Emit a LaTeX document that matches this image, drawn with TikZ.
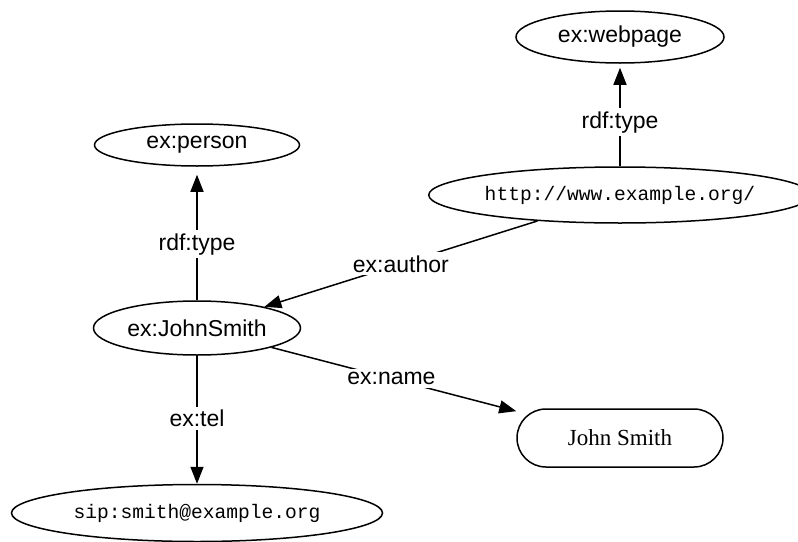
\documentclass[tikz,border=0pt]{standalone}
\usepackage{fontspec}
\setmainfont{Liberation Sans}
\newfontfamily\courierfont{Liberation Mono}
\newfontfamily\timesfont{Liberation Serif}
\usetikzlibrary{shapes.geometric,arrows.meta}
\begin{document}
\begin{tikzpicture}[x=1pt,y=-1pt,
  every node/.style={font=\fontsize{23}{27}\selectfont},
  res/.style={draw, ellipse, line width=1.5pt, inner sep=0pt},
  urlres/.style={res, font=\courierfont\fontsize{19.6}{24}\selectfont},
  lit/.style={draw, rectangle, rounded corners=29pt, line width=1.5pt, inner sep=0pt,
    minimum width=206pt, minimum height=58pt, font=\timesfont\fontsize{23}{27}\selectfont},
  edge/.style={line width=1.5pt, -{Triangle[length=17pt,width=13pt]}},
  lbl/.style={fill=white, inner sep=3pt}]
\useasboundingbox (0,0) rectangle (798,541);
\node[res, minimum width=208pt, minimum height=52pt] (web) at (620,37) {ex:webpage};
\node[res, minimum width=205pt, minimum height=42pt] (person) at (197,145) {ex:person};
\node[urlres, minimum width=360pt, minimum height=56pt] (http) at (620,195) {http://www.example.org/};
\node[res, minimum width=207pt, minimum height=54pt] (js) at (197,328) {ex:JohnSmith};
\node[lit] (name) at (620,438) {John Smith};
\node[urlres, minimum width=371pt, minimum height=57pt] (sip) at (197,513) {sip:smith@example.org};

\draw[edge, shorten >=4pt] (http) -- node[lbl, pos=0.43] {rdf:type} (web);
\draw[edge, shorten >=8pt] (js) -- node[lbl, pos=0.42] {rdf:type} (person);
\draw[edge] (http) -- node[lbl, pos=0.50] {ex:author} (js);
\draw[edge] (js) -- node[lbl, pos=0.49] {ex:name} (name);
\draw[edge] (js) -- node[lbl, pos=0.49] {ex:tel} (sip);
\end{tikzpicture}
\end{document}
